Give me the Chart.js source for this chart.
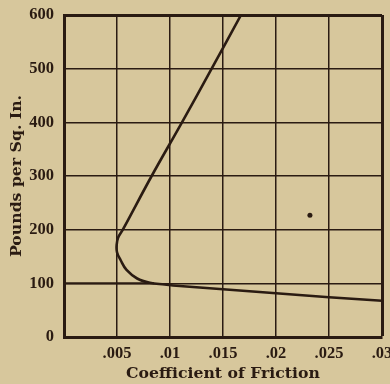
<!DOCTYPE html>
<html>
<head>
<meta charset="utf-8">
<script src="https://cdn.jsdelivr.net/npm/chart.js@4"></script>
<style>
  html, body { margin: 0; padding: 0; background: #d7c79c; }
  canvas { display: block; }
</style>
</head>
<body>
<canvas id="c" width="390" height="384"></canvas>
<script>
// Friction curve: coefficient of friction against bearing pressure
const frictionX = [0.0167, 0.01393, 0.01113, 0.00827, 0.00555, 0.0051, 0.00497, 0.0050, 0.00535, 0.0059, 0.0069, 0.0081, 0.0095, 0.0106, 0.015, 0.020, 0.025, 0.030];
const pressureY = [600, 500, 400, 300, 200, 185, 172, 158, 143, 125, 109, 101, 98, 95.6, 89, 81.5, 74, 67.5];

// Short horizontal branch at 100 lb from the axis to the curve
const branchX = [0, 0.0085];
const branchY = [100, 100];

// Isolated mark inside the plot
const speckX = [0.0232];
const speckY = [227];

// Axis ticks
const xTickValues = [0, 0.005, 0.01, 0.015, 0.02, 0.025, 0.03];
const xTickLabels = ['', '.005', '.01', '.015', '.02', '.025', '.03'];
const yTickValues = [0, 100, 200, 300, 400, 500, 600];

const ink = '#2a1b12';
const tickFont = { family: '"Liberation Serif", serif', weight: 'bold', size: 16.5 };
const titleFont = { family: '"DejaVu Serif", serif', weight: 'bold', size: 15.7 };

const toPoints = (xs, ys) => xs.map((x, i) => ({ x, y: ys[i] }));

new Chart(document.getElementById('c'), {
  type: 'line',
  data: {
    datasets: [
      {
        data: toPoints(frictionX, pressureY),
        borderColor: ink,
        borderWidth: 2.6,
        pointRadius: 0,
        tension: 0.4,
        fill: false
      },
      {
        data: toPoints(branchX, branchY),
        borderColor: ink,
        borderWidth: 2,
        pointRadius: 0,
        tension: 0,
        fill: false
      },
      {
        data: toPoints(speckX, speckY),
        showLine: false,
        pointRadius: 2.5,
        pointBackgroundColor: ink,
        pointBorderWidth: 0
      }
    ]
  },
  options: {
    responsive: false,
    animation: false,
    layout: { padding: { top: 15, right: 8, bottom: 0, left: 0 } },
    plugins: { legend: { display: false }, tooltip: { enabled: false } },
    scales: {
      x: {
        type: 'linear',
        min: 0,
        max: 0.03,
        afterBuildTicks: (s) => { s.ticks = xTickValues.map(v => ({ value: v })); },
        afterFit: (s) => { s.height = 47; s.paddingLeft = 0; s.paddingRight = 0; },
        grid: {
          color: ink,
          lineWidth: (c) => (c.tick && c.tick.value === 0.03) ? 3 : 1.5,
          drawTicks: false
        },
        border: { display: true, color: ink, width: 3 },
        ticks: {
          color: ink,
          padding: 7,
          maxRotation: 0,
          autoSkip: false,
          font: tickFont,
          callback: (v, i) => xTickLabels[i]
        },
        title: {
          display: true,
          text: 'Coefficient of Friction',
          color: ink,
          font: titleFont,
          padding: { top: 0, bottom: 0.5 }
        }
      },
      y: {
        type: 'linear',
        min: 0,
        max: 600,
        afterBuildTicks: (s) => { s.ticks = yTickValues.map(v => ({ value: v })); },
        afterFit: (s) => { s.width = 64; s.paddingTop = 0; s.paddingBottom = 0; },
        grid: {
          color: ink,
          lineWidth: (c) => (c.tick && c.tick.value === 600) ? 3 : 1.5,
          drawTicks: false
        },
        border: { display: true, color: ink, width: 3 },
        ticks: {
          color: ink,
          padding: 10,
          autoSkip: false,
          font: tickFont,
          callback: (v) => String(v)
        },
        title: {
          display: true,
          text: 'Pounds per Sq. In.',
          color: ink,
          font: titleFont,
          padding: { top: 7.6, bottom: 0 }
        }
      }
    }
  }
});
</script>
</body>
</html>
